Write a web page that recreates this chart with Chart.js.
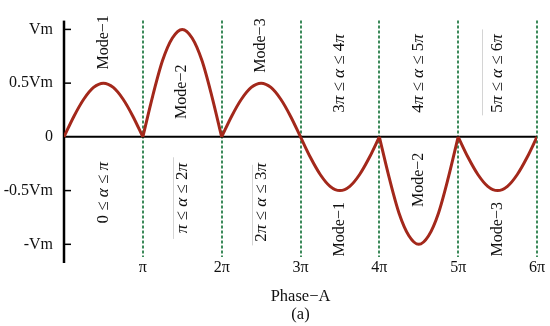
<!DOCTYPE html>
<html>
<head>
<meta charset="utf-8">
<script src="https://cdn.jsdelivr.net/npm/chart.js@4"></script>
<style>
html, body { margin: 0; padding: 0; background: #fff; }
#wrap { width: 550px; height: 326px; }
</style>
</head>
<body>
<div id="wrap"><canvas id="myChart"></canvas></div>
<script>
// phase in units of pi, voltage in units of Vm
const phase = [
    0, 0.125, 0.25, 0.375, 0.5, 0.625, 0.75, 0.875,
    1, 1.125, 1.25, 1.375, 1.5, 1.625, 1.75, 1.875,
    2, 2.125, 2.25, 2.375, 2.5, 2.625, 2.75, 2.875,
    3, 3.125, 3.25, 3.375, 3.5, 3.625, 3.75, 3.875,
    4, 4.125, 4.25, 4.375, 4.5, 4.625, 4.75, 4.875,
    5, 5.125, 5.25, 5.375, 5.5, 5.625, 5.75, 5.875,
    6
];
const voltage = [
    0, 0.19, 0.35, 0.46, 0.5, 0.46, 0.35, 0.19,
    0, 0.38, 0.71, 0.92, 1, 0.92, 0.71, 0.38,
    0, 0.19, 0.35, 0.46, 0.5, 0.46, 0.35, 0.19,
    0, -0.19, -0.35, -0.46, -0.5, -0.46, -0.35, -0.19,
    0, -0.38, -0.71, -0.92, -1, -0.92, -0.71, -0.38,
    0, -0.19, -0.35, -0.46, -0.5, -0.46, -0.35, -0.19,
    0
];
const xTickValues = [0, 1, 2, 3, 4, 5, 6];
const xTickLabels = ['', 'π', '2π', '3π', '4π', '5π', '6π'];
const yTickValues = [-1, -0.5, 0, 0.5, 1];
const yTickLabels = ['-Vm', '-0.5Vm', '0', '0.5Vm', 'Vm'];
const modeLabels = ['Mode−1', 'Mode−2', 'Mode−3', 'Mode−1', 'Mode−2', 'Mode−3'];
const rangeLabels = ['0 ≤ α ≤ π', 'π ≤ α ≤ 2π', '2π ≤ α ≤ 3π', '3π ≤ α ≤ 4π', '4π ≤ α ≤ 5π', '5π ≤ α ≤ 6π'];

const serif = "'Liberation Serif', 'DejaVu Serif', serif";
const curveColor = '#a3281b';

// one dataset per half cycle so the cusps at k*pi stay sharp
const datasets = [];
for (let s = 0; s < 6; s++) {
    const pts = [];
    for (let i = s * 8; i <= s * 8 + 8; i++) {
        pts.push({x: phase[i], y: voltage[i]});
    }
    datasets.push({
        data: pts,
        borderColor: curveColor,
        borderWidth: 3,
        pointRadius: 0,
        fill: false,
        cubicInterpolationMode: 'monotone'
    });
}

// draws rotated text, italic for alpha and pi
function drawMath(ctx, text, cx, cy) {
    const up = '17px ' + serif;
    const it = 'italic 17px ' + serif;
    const parts = text.split('');
    let total = 0;
    const widths = parts.map(ch => {
        ctx.font = (ch === 'α' || ch === 'π') ? it : up;
        const w = ctx.measureText(ch).width;
        total += w;
        return w;
    });
    ctx.save();
    ctx.translate(cx, cy);
    ctx.rotate(-Math.PI / 2);
    ctx.textBaseline = 'middle';
    ctx.textAlign = 'left';
    let x = -total / 2;
    parts.forEach((ch, i) => {
        ctx.font = (ch === 'α' || ch === 'π') ? it : up;
        ctx.fillText(ch, x, 0);
        x += widths[i];
    });
    ctx.restore();
}

const decor = {
    id: 'decor',
    beforeDatasetsDraw(chart) {
        const ctx = chart.ctx;
        const area = chart.chartArea;
        const xs = chart.scales.x;
        const ys = chart.scales.y;
        ctx.save();
        // faint text box edges left over in the original figure
        ctx.strokeStyle = '#d4d4d4';
        ctx.lineWidth = 1;
        [[1.38, -0.19, -0.95], [2.38, -0.26, -1.01], [5.3, 1.0, 0.2]].forEach(b => {
            const px = Math.round(xs.getPixelForValue(b[0])) + 0.5;
            ctx.beginPath();
            ctx.moveTo(px, ys.getPixelForValue(b[1]));
            ctx.lineTo(px, ys.getPixelForValue(b[2]));
            ctx.stroke();
        });
        // dotted phase boundaries
        ctx.strokeStyle = '#3c8a5a';
        ctx.lineWidth = 2;
        ctx.setLineDash([3, 2]);
        for (let k = 1; k <= 6; k++) {
            const px = Math.round(xs.getPixelForValue(k));
            ctx.beginPath();
            ctx.moveTo(px, area.top);
            ctx.lineTo(px, area.bottom);
            ctx.stroke();
        }
        ctx.setLineDash([]);
        // zero line
        ctx.strokeStyle = '#000';
        ctx.lineWidth = 2;
        const y0 = ys.getPixelForValue(0);
        ctx.beginPath();
        ctx.moveTo(area.left, y0);
        ctx.lineTo(area.right, y0);
        ctx.stroke();
        // y axis with inward ticks
        ctx.lineWidth = 2.5;
        ctx.beginPath();
        ctx.moveTo(area.left, area.top);
        ctx.lineTo(area.left, area.bottom + 6);
        ctx.stroke();
        ctx.lineWidth = 1.5;
        [-1, -0.5, 0.5, 1].forEach(v => {
            const py = ys.getPixelForValue(v);
            ctx.beginPath();
            ctx.moveTo(area.left, py);
            ctx.lineTo(area.left + 7, py);
            ctx.stroke();
        });
        ctx.restore();
    },
    afterDatasetsDraw(chart) {
        const ctx = chart.ctx;
        const xs = chart.scales.x;
        const ys = chart.scales.y;
        const modeY = [0.88, 0.42, 0.85, -0.86, -0.4, -0.86];
        const rangeY = [-0.52, -0.57, -0.61, 0.59, 0.59, 0.59];
        ctx.save();
        ctx.fillStyle = '#111';
        for (let s = 0; s < 6; s++) {
            const cx = xs.getPixelForValue(s + 0.5);
            ctx.save();
            ctx.translate(cx, ys.getPixelForValue(modeY[s]));
            ctx.rotate(-Math.PI / 2);
            ctx.font = '16px ' + serif;
            ctx.textAlign = 'center';
            ctx.textBaseline = 'middle';
            ctx.fillText(modeLabels[s], 0, 0);
            ctx.restore();
            drawMath(ctx, rangeLabels[s], cx, ys.getPixelForValue(rangeY[s]));
        }
        ctx.restore();
    }
};

const ctx = document.getElementById('myChart');
new Chart(ctx, {
    type: 'line',
    data: { datasets: datasets },
    options: {
        responsive: true,
        maintainAspectRatio: false,
        animation: false,
        layout: { padding: { left: 0, right: 13, top: 15, bottom: 0 } },
        plugins: {
            legend: { display: false },
            tooltip: { enabled: false }
        },
        scales: {
            x: {
                type: 'linear',
                min: 0,
                max: 6,
                grid: { display: false, drawTicks: false },
                border: { display: false },
                afterBuildTicks: scale => { scale.ticks = xTickValues.map(v => ({value: v})); },
                afterFit: scale => { scale.height = 69; },
                ticks: {
                    color: '#111',
                    padding: 1,
                    maxRotation: 0,
                    font: { family: serif, size: 16 },
                    callback: (v, i) => xTickLabels[i]
                },
                title: {
                    display: true,
                    text: ['Phase−A', '(a)'],
                    color: '#111',
                    font: { family: serif, size: 16.5, lineHeight: 1.05 },
                    padding: { top: 0, bottom: 3 }
                }
            },
            y: {
                type: 'linear',
                min: -1.118,
                max: 1.082,
                grid: { display: false, drawTicks: false },
                border: { display: false },
                afterBuildTicks: scale => { scale.ticks = yTickValues.map(v => ({value: v})); },
                afterFit: scale => { scale.width = 64; },
                ticks: {
                    color: '#111',
                    padding: 11,
                    font: { family: serif, size: 16 },
                    callback: (v, i) => yTickLabels[i]
                }
            }
        }
    },
    plugins: [decor]
});
</script>
</body>
</html>
